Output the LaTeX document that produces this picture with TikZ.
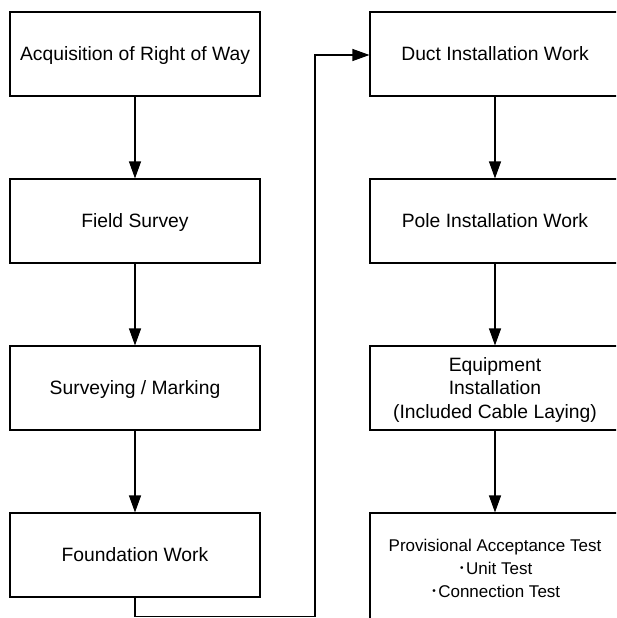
\documentclass[tikz,border=0pt]{standalone}
\usepackage{fontspec}
\setmainfont{Liberation Sans}
\newfontfamily\jpfont{Noto Sans CJK JP}
\usetikzlibrary{arrows.meta}
\tikzset{
  stepbox/.style={draw, line width=1.1pt, minimum width=250pt, minimum height=84pt,
    align=center, inner sep=0pt, text depth=0pt, font=\fontsize{19.3}{23.5}\selectfont},
  testbox/.style={stepbox, minimum height=110pt, font=\fontsize{17}{23}\selectfont},
  flow/.style={line width=1.1pt, -{Triangle[length=17pt,width=12pt]}},
}
\newcommand{\bulletdot}{{\jpfont ･}}
\begin{document}
\begin{tikzpicture}[x=1pt,y=-1pt]
\useasboundingbox (0,0) rectangle (616,618);
\clip (0,0) rectangle (616,618);

% left column: preparation
\node[stepbox] (row)   at (135,54)  {Acquisition of Right of Way};
\node[stepbox] (field) at (135,221) {Field Survey};
\node[stepbox] (mark)  at (135,388) {Surveying / Marking};
\node[stepbox] (found) at (135,555) {Foundation Work};

% right column: installation and testing
\node[stepbox] (duct)  at (495,54)  {Duct Installation Work};
\node[stepbox] (pole)  at (495,221) {Pole Installation Work};
\node[stepbox] (equip) at (495,388) {Equipment\\Installation\\(Included Cable Laying)};
\node[testbox] (test)  at (495,568) {Provisional Acceptance Test\\\bulletdot Unit Test\\\bulletdot Connection Test};

\draw[flow] (row)   -- (field);
\draw[flow] (field) -- (mark);
\draw[flow] (mark)  -- (found);
\draw[flow] (duct)  -- (pole);
\draw[flow] (pole)  -- (equip);
\draw[flow] (equip) -- (test);

% return path from the foundation step to the top of the right column
\coordinate (turnA) at (135,616.5);
\coordinate (turnB) at (315,616.5);
\coordinate (turnC) at (315,55);
\draw[flow] (found.south) -- (turnA) -- (turnB) -- (turnC) -- (duct.west |- turnC);
\end{tikzpicture}
\end{document}
